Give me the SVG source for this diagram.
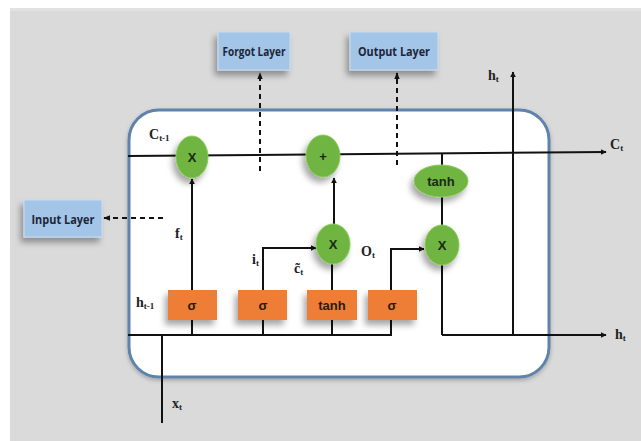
<svg xmlns="http://www.w3.org/2000/svg" width="641" height="441" viewBox="0 0 641 441">
<defs>
<filter id="sh" x="-40%" y="-40%" width="180%" height="200%">
<feDropShadow dx="-3" dy="5" stdDeviation="3" flood-color="#000" flood-opacity="0.35"/>
</filter>
<filter id="sh2" x="-20%" y="-20%" width="140%" height="140%">
<feDropShadow dx="0" dy="2" stdDeviation="2" flood-color="#000" flood-opacity="0.25"/>
</filter>
<marker id="ah" viewBox="0 0 10 10" refX="9" refY="5" markerWidth="6" markerHeight="6" orient="auto" markerUnits="userSpaceOnUse">
<path d="M0,0 L10,5 L0,10 z" fill="#111"/>
</marker>
<marker id="ahs" viewBox="0 0 10 10" refX="9" refY="5" markerWidth="7" markerHeight="7" orient="auto" markerUnits="userSpaceOnUse">
<path d="M0,1 L10,5 L0,9 z" fill="#111"/>
</marker>
</defs>
<style>
.layer rect{fill:#a3c6e8;stroke:#c9dcef;stroke-width:1}
.layer text{font-family:"Open Sans","Liberation Sans",sans-serif;font-weight:bold;font-size:12.5px;fill:#1d2538;text-anchor:middle}
.gate rect{fill:#ee7d34}
.gate text{font-family:"Liberation Sans",sans-serif;font-weight:bold;font-size:13px;fill:#2a1a10;text-anchor:middle}
.op ellipse{fill:#6fb443;stroke:#8ccc5c;stroke-width:1}
.op text{font-family:"Liberation Sans",sans-serif;font-weight:bold;font-size:13px;fill:#1a2a10;text-anchor:middle}
.ln{stroke:#111;stroke-width:2;fill:none}
.dash{stroke:#111;stroke-width:2;fill:none;stroke-dasharray:5,4}
.lbl{font-family:"Liberation Serif",serif;font-weight:bold;font-size:14px;fill:#222}
.sub{font-size:9px}
</style>
<rect x="0" y="0" width="641" height="441" fill="#ffffff"/>
<rect x="10" y="8" width="631" height="433" fill="#dadada"/>
<rect x="10" y="8" width="631" height="3" fill="#e2e2e2"/>

<g id="cell">
<rect x="129" y="110" width="420" height="267" rx="30" ry="30" fill="#ffffff" stroke="#5f83ab" stroke-width="3" filter="url(#sh2)"/>
</g>

<g id="connectors">
<line class="ln" x1="128" y1="156" x2="606" y2="152" marker-end="url(#ah)"/>
<line class="ln" x1="442" y1="153" x2="442" y2="335"/>
<polyline class="ln" points="442,335 606,335" marker-end="url(#ah)"/>
<line class="ln" x1="513" y1="335" x2="513" y2="72" marker-end="url(#ah)"/>
<line class="ln" x1="192" y1="290" x2="192" y2="179" marker-end="url(#ah)"/>
<line class="ln" x1="334" y1="225" x2="334" y2="178" marker-end="url(#ah)"/>
<line class="ln" x1="332" y1="290" x2="332" y2="262"/>
<polyline class="ln" points="263,290 263,248 316,248" marker-end="url(#ah)"/>
<polyline class="ln" points="391,290 391,249 424,249" marker-end="url(#ah)"/>
<line class="ln" x1="128" y1="335" x2="392" y2="335"/>
<line class="ln" x1="192" y1="320" x2="192" y2="335"/>
<line class="ln" x1="263" y1="320" x2="263" y2="335"/>
<line class="ln" x1="332" y1="320" x2="332" y2="335"/>
<line class="ln" x1="391" y1="320" x2="391" y2="336"/>
<line class="ln" x1="162" y1="335" x2="162" y2="423"/>
<line class="dash" x1="260" y1="171" x2="260" y2="73" marker-end="url(#ahs)"/>
<line class="dash" x1="397" y1="165" x2="397" y2="73" marker-end="url(#ahs)"/>
<line class="dash" x1="163" y1="218" x2="104" y2="218" marker-end="url(#ahs)"/>
</g>

<g id="forgot-layer" class="layer"><rect x="218" y="32" width="72" height="38" filter="url(#sh)"/><text x="254" y="56" textLength="63" lengthAdjust="spacingAndGlyphs">Forgot Layer</text></g>
<g id="output-layer" class="layer"><rect x="350" y="32" width="88" height="38" filter="url(#sh)"/><text x="394" y="56" textLength="72" lengthAdjust="spacingAndGlyphs">Output Layer</text></g>
<g id="input-layer" class="layer"><rect x="24" y="200" width="78" height="37" filter="url(#sh)"/><text x="63" y="224" textLength="63" lengthAdjust="spacingAndGlyphs">Input Layer</text></g>

<g id="sigma-forget" class="gate"><rect x="168" y="290" width="49" height="30" filter="url(#sh)"/><text x="192" y="310">σ</text></g>
<g id="sigma-input" class="gate"><rect x="238" y="290" width="49" height="30" filter="url(#sh)"/><text x="263" y="310">σ</text></g>
<g id="tanh-gate" class="gate"><rect x="307" y="290" width="50" height="30" filter="url(#sh)"/><text x="332" y="310">tanh</text></g>
<g id="sigma-output" class="gate"><rect x="368" y="290" width="49" height="30" filter="url(#sh)"/><text x="392" y="310">σ</text></g>

<g id="mul-forget" class="op"><ellipse cx="192" cy="157" rx="16" ry="21" filter="url(#sh)"/><text x="192" y="162">X</text></g>
<g id="add-cell" class="op"><ellipse cx="323" cy="156" rx="17" ry="21" filter="url(#sh)"/><text x="323" y="161" font-size="10">+</text></g>
<g id="mul-input" class="op"><ellipse cx="333" cy="244" rx="17" ry="20" filter="url(#sh)"/><text x="333" y="249">X</text></g>
<g id="tanh-cell" class="op"><ellipse cx="441" cy="181" rx="27" ry="16" filter="url(#sh)"/><text x="441" y="186">tanh</text></g>
<g id="mul-output" class="op"><ellipse cx="442" cy="245" rx="17" ry="20" filter="url(#sh)"/><text x="442" y="250">X</text></g>

<g id="labels">
<text class="lbl" x="149" y="139">C<tspan class="sub" dy="2">t-1</tspan></text>
<text class="lbl" x="175" y="238">f<tspan class="sub" dy="2">t</tspan></text>
<text class="lbl" x="252" y="264">i<tspan class="sub" dy="2">t</tspan></text>
<text class="lbl" x="294" y="273">c̃<tspan class="sub" dy="2">t</tspan></text>
<text class="lbl" x="361" y="256">O<tspan class="sub" dy="2">t</tspan></text>
<text class="lbl" x="136" y="307">h<tspan class="sub" dy="2">t-1</tspan></text>
<text class="lbl" x="172" y="408">x<tspan class="sub" dy="2">t</tspan></text>
<text class="lbl" x="488" y="80">h<tspan class="sub" dy="2">t</tspan></text>
<text class="lbl" x="610" y="149">C<tspan class="sub" dy="2">t</tspan></text>
<text class="lbl" x="615" y="339">h<tspan class="sub" dy="2">t</tspan></text>
</g>
</svg>
